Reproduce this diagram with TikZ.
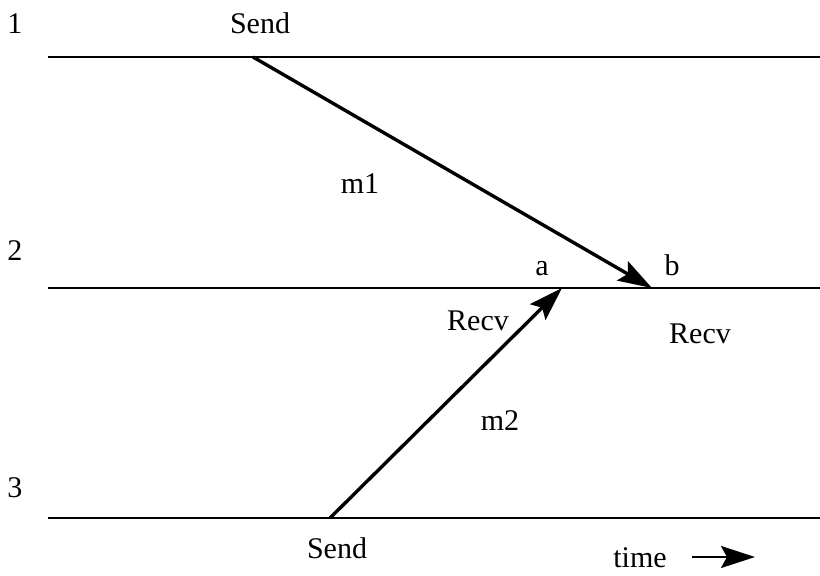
\documentclass[tikz,border=0pt]{standalone}
\usepackage{fontspec}
\setmainfont{Liberation Serif}
\usetikzlibrary{arrows.meta}

\begin{document}
\begin{tikzpicture}[
    x=0.5pt, y=-0.5pt,
    proc/.style={line width=1.1pt},
    msg/.style={-{Stealth[length=17pt, width=11pt, inset=3pt]}, line width=1.7pt},
    lbl/.style={font=\fontsize{15}{18}\selectfont, anchor=base, inner sep=0pt}
  ]
  \useasboundingbox (0,0) rectangle (820,575);
  % process lines
  \coordinate (p1w) at (48,57);  \coordinate (p1e) at (820,57);
  \coordinate (p2w) at (48,288); \coordinate (p2e) at (820,288);
  \coordinate (p3w) at (48,518); \coordinate (p3e) at (820,518);
  \draw[proc] (p1w) -- (p1e);
  \draw[proc] (p2w) -- (p2e);
  \draw[proc] (p3w) -- (p3e);

  % events
  \coordinate (send1) at (253,57);
  \coordinate (send3) at (330,518);
  \coordinate (recva) at (562,288);
  \coordinate (recvb) at (652,288);
  \draw[msg] (send1) -- (recvb);
  \draw[msg] (send3) -- (recva);

  % labels
  \node[lbl] (n1) at (15,33) {1};
  \node[lbl] (n2) at (15,260) {2};
  \node[lbl] (n3) at (15,497) {3};
  \node[lbl] (snd1) at (260,33) {Send};
  \node[lbl] (snd3) at (337,558) {Send};
  \node[lbl] (m1) at (360,193) {m1};
  \node[lbl] (m2) at (500,430) {m2};
  \node[lbl] (a) at (542,275) {a};
  \node[lbl] (b) at (672,275) {b};
  \node[lbl] (rcva) at (478,330) {Recv};
  \node[lbl] (rcvb) at (700,343) {Recv};
  \node[lbl] (time) at (640,567) {time};

  % time arrow
  \coordinate (t0) at (692,557);
  \coordinate (t1) at (755,557);
  \draw[msg, line width=1.3pt] (t0) -- (t1);
\end{tikzpicture}
\end{document}
